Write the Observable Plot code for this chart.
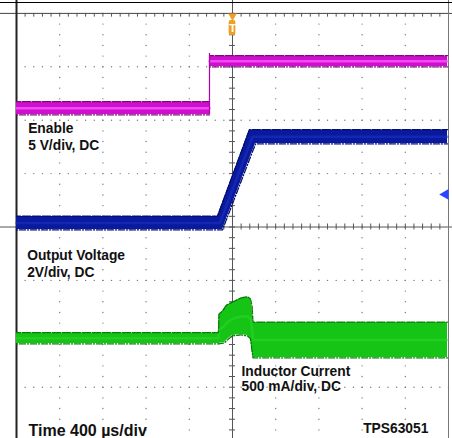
<!DOCTYPE html>
<html><head><meta charset="utf-8">
<script src="https://cdn.jsdelivr.net/npm/d3@7"></script>
<script src="https://cdn.jsdelivr.net/npm/@observablehq/plot@0.6"></script>
<style>
html,body{margin:0;padding:0;background:#fff;}
#wrap{position:relative;width:452px;height:438px;overflow:hidden;}
#topline{position:absolute;left:0;top:2px;width:452px;height:0;border-top:1.5px solid #000;}
#chart{position:absolute;left:0;top:0;}
</style></head><body>
<div id="wrap"><div id="chart"></div><div id="topline"></div></div>
<script>
// ---- Data (time in µs, amplitude in screen divisions) ----
// Enable (magenta): low level then step to high level
const enableLowT = [-2000, -213];
const enableLowTop = [2.34, 2.34];
const enableLowBot = [2.107, 2.107];
const enableHighT = [-213, 1991];
const enableHighTop = [3.20, 3.20];
const enableHighBot = [3.006, 3.006];
const enableStepT = -213;
const enableStepV = [2.107, 3.25];

// Output voltage (blue): top and bottom envelope of the trace
const voutTopT = [-2000, -139, 157, 1991];
const voutTopV = [0.197, 0.197, 1.816, 1.816];
const voutBotT = [-2000, -93, 213, 1991];
const voutBotV = [-0.047, -0.047, 1.564, 1.564];

// Inductor current (green): top and bottom envelope
const ilTopT = [-2000, -130, -125, -93, -56, 0, 74, 139, 167, 181, 190, 1991];
const ilTopV = [-1.985, -1.985, -1.639, -1.582, -1.470, -1.414, -1.339, -1.311, -1.358, -1.489, -1.788, -1.788];
const ilBotT = [-2000, -130, -125, -74, -37, 0, 74, 139, 167, 181, 190, 1991];
const ilBotV = [-2.182, -2.182, -2.182, -2.163, -2.088, -2.032, -2.013, -2.032, -2.088, -2.313, -2.444, -2.444];

// Grid (10 x 8 divisions)
const gridT = [-1600, -1200, -800, -400, 400, 800, 1200, 1600];
const gridV = [-3, -2, -1, 1, 2, 3];

// Labels
const labels = ["Enable", "5 V/div, DC", "Output Voltage", "2V/div, DC", "Inductor Current", "500 mA/div, DC", "TPS63051"];
const labelT = [-1892, -1892, -1901, -1901, 83, 83, 1210];
const labelV = [1.751, 1.451, -0.622, -0.927, -2.781, -3.075, -3.854];
const timeLabel = "Time 400 µs/div";
const timeLabelT = -1889;
const timeLabelV = -3.92;

// Markers
const triggerT = 0;
const refMarkerT = 1972;
const refMarkerV = 0.609;

// ---- build helpers ----
const zipEnv = (tA, vA, tB, vB) => tA.map((t, i) => ({t1: t, v1: vA[i], t2: tB[i], v2: vB[i]}));
const minorT = d3.range(-2000, 2000.1, 80);
const minorV = d3.range(-4, 4.001, 0.2);
const vDots = gridT.flatMap(t => minorV.map(v => ({t, v})));
const hDots = gridV.flatMap(v => minorT.map(t => ({t, v})));

const enableLow = zipEnv(enableLowT, enableLowTop, enableLowT, enableLowBot);
const enableHigh = zipEnv(enableHighT, enableHighTop, enableHighT, enableHighBot);
const vout = zipEnv(voutTopT, voutTopV, voutBotT, voutBotV);
const il = zipEnv(ilTopT, ilTopV, ilBotT, ilBotV);

const font = "Liberation Sans, Arial, Helvetica, sans-serif";

function trace(data, fill, mid, midOpacity, edge) {
  return [
    Plot.area(data, {x1: "t1", y1: "v1", x2: "t2", y2: "v2", fill: fill, curve: "linear"}),
    Plot.line(data, {x: d => (d.t1 + d.t2) / 2, y: d => (d.v1 + d.v2) / 2, stroke: mid, strokeWidth: 2.5, strokeOpacity: midOpacity}),
    Plot.line(data, {x: "t1", y: "v1", stroke: edge, strokeWidth: 1.3, dy: -0.4, strokeDasharray: "2,1,1,2,3,1"}),
    Plot.line(data, {x: "t2", y: "v2", stroke: edge, strokeWidth: 1.3, dy: 0.4, strokeDasharray: "1,2,3,1,2,2"})
  ];
}

const chart = Plot.plot({
  width: 452,
  height: 438,
  margin: 0,
  x: {domain: [-2000, 2000], range: [16, 448], axis: null},
  y: {domain: [-4, 4], range: [440.1, 12.9], axis: null},
  style: {background: "transparent", overflow: "visible"},
  marks: [
    // dotted grid
    Plot.dot(vDots, {x: "t", y: "v", r: 0.7, fill: "#7a7a7a", stroke: null}),
    Plot.dot(hDots, {x: "t", y: "v", r: 0.7, fill: "#7a7a7a", stroke: null}),
    // centre axes with minor ticks
    Plot.ruleX([0], {stroke: "#555", strokeWidth: 1}),
    Plot.ruleY([0], {stroke: "#555", strokeWidth: 1}),
    Plot.ruleX(minorT, {x: d => d, y1: -0.056, y2: 0.056, stroke: "#555"}),
    Plot.ruleY(minorV, {y: d => d, x1: -28, x2: 28, stroke: "#555"}),
    // frame
    Plot.ruleY([4], {stroke: "#444", strokeWidth: 1}),
    Plot.ruleX(minorT, {x: d => d, y1: 4, y2: 3.93, stroke: "#555"}),
    Plot.ruleX([-2000], {stroke: "#222", strokeWidth: 2}),
    Plot.ruleX([2000], {stroke: "#777", strokeWidth: 1}),
    // traces
    ...trace(enableLow, "#cc10cc", "#ff55ff", 0.8, "#7a0a7a"),
    ...trace(enableHigh, "#cc10cc", "#ff55ff", 0.8, "#7a0a7a"),
    Plot.ruleX([enableStepT], {x: d => d, y1: enableStepV[0], y2: enableStepV[1], stroke: "#b000b0", strokeWidth: 1.2}),
    ...trace(vout, "#0a1a9e", "#1c34c8", 0.5, "#000a6a"),
    ...trace(il, "#16c416", "#2ed82e", 0.5, "#087a08"),
    // trigger marker
    Plot.dot([triggerT], {x: d => d, y: 3.95, symbol: "triangle", rotate: 180, r: 3.2, fill: "#f0a020", stroke: null}),
    Plot.rect([triggerT], {x1: d => d - 31, x2: d => d + 31, y1: 3.586, y2: 3.867, fill: "#f0a020", rx: 2}),
    Plot.text(["T"], {x: triggerT, y: 3.727, text: d => d, fill: "#fff", fontWeight: "bold", fontSize: 11, fontFamily: font}),
    // reference marker
    Plot.dot([refMarkerV], {x: refMarkerT, y: d => d, symbol: "triangle", rotate: -90, r: 4, fill: "#2a44ff", stroke: null}),
    // labels
    Plot.text(labels, {x: (d, i) => labelT[i], y: (d, i) => labelV[i], text: d => d, textAnchor: "start", lineAnchor: "bottom", fontSize: 13.8, fontWeight: "bold", fontFamily: font, fill: "#111"}),
    Plot.text([timeLabel], {x: timeLabelT, y: timeLabelV, text: d => d, textAnchor: "start", lineAnchor: "bottom", fontSize: 16, fontWeight: "bold", fontFamily: font, fill: "#111"})
  ]
});
document.getElementById("chart").appendChild(chart);
</script>
</body></html>
